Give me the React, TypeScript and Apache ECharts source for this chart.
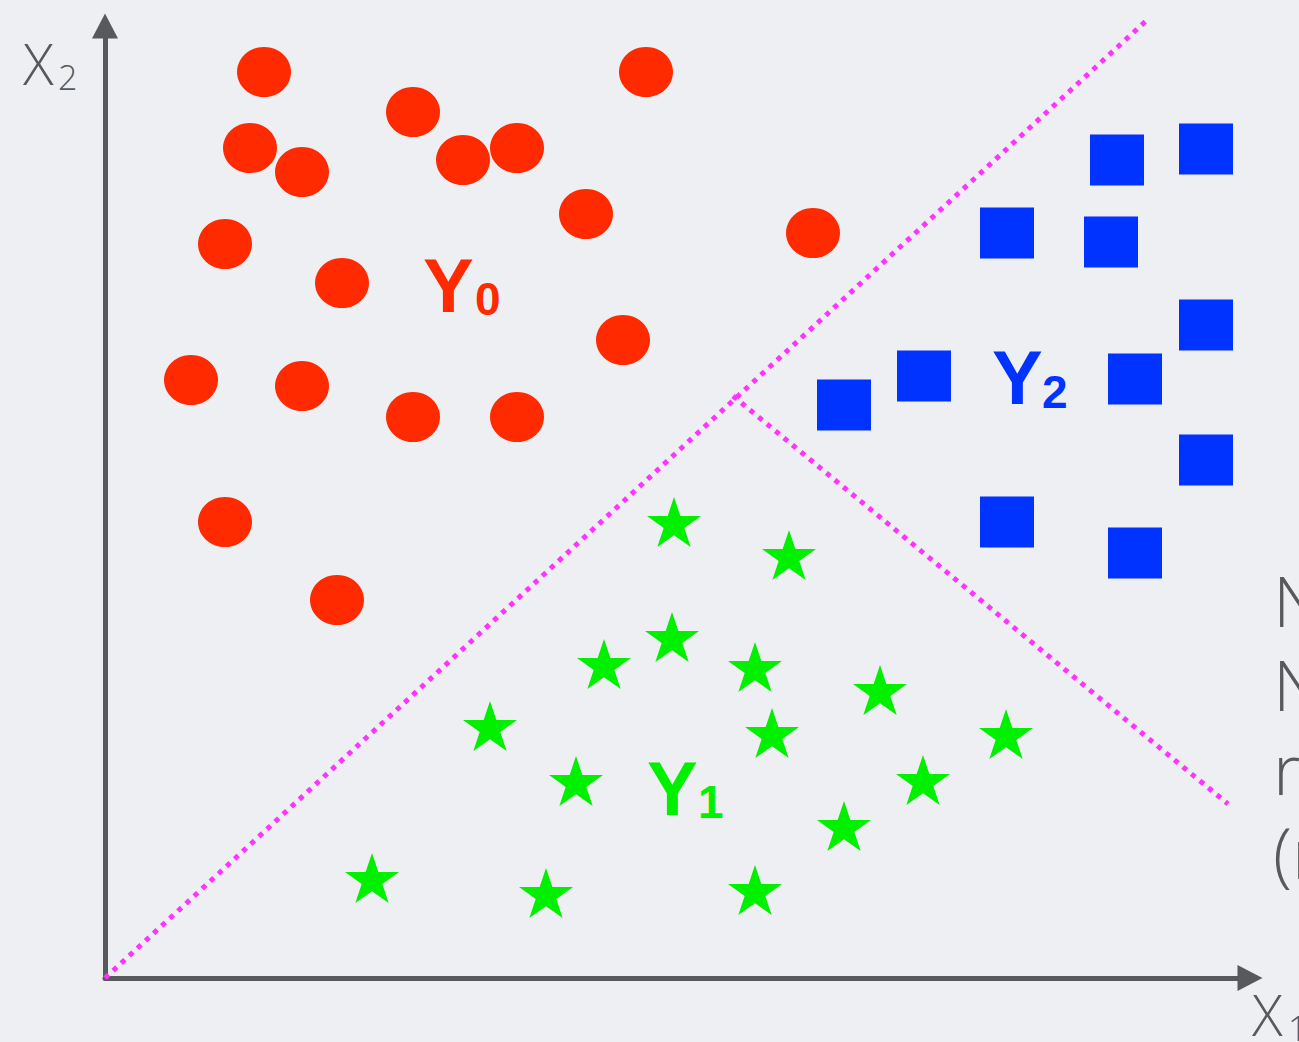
import React, { useEffect, useRef } from "react";
import * as echarts from "echarts";

// Class Y0 (red circles), pixel-offset units from the axis origin
const class0X = [159, 541, 308, 145, 197, 358, 412, 481, 708, 120, 237, 518, 86, 197, 308, 412, 120, 232];
const class0Y = [906, 906, 866, 830, 806, 818, 830, 764, 745, 734, 695, 638, 598, 592, 561, 561, 456, 378];
// Class Y2 (blue squares)
const class2X = [1012, 1101, 902, 1006, 1101, 819, 739, 1030, 1101, 902, 1030];
const class2Y = [818, 829, 745, 736, 653, 602, 573, 599, 518, 456, 425];
// Class Y1 (green stars)
const class1X = [569, 684, 567, 499, 650, 775, 385, 667, 901, 471, 818, 739, 267, 441, 650];
const class1Y = [456, 423, 341, 314, 311, 288, 252, 245, 244, 197, 198, 152, 100, 85, 88];
// Decision boundaries
const boundaryA = [[0, 0], [1042, 958]];
const boundaryB = [[628, 582], [1123, 174]];
// Texts
const classNames = ["Y", "Y", "Y"];
const classSubs = ["0", "1", "2"];
const axisNames = ["X", "X"];
const axisSubs = ["1", "2"];
const sideLines = ["N", "N", "re", "(n"];

const STAR =
  "path://M50,0 L61.2,34.5 L97.6,34.5 L68.2,55.9 L79.4,90.5 L50,69.1 L20.6,90.5 L31.8,55.9 L2.4,34.5 L38.8,34.5 Z";

const zip = (xs: number[], ys: number[]) => xs.map((x, i) => [x, ys[i]]);

export default function App() {
  const ref = useRef<HTMLDivElement>(null);
  useEffect(() => {
    if (!ref.current) return;
    const chart = echarts.init(ref.current, undefined, { renderer: "svg" });
    const gray = "#58595b";
    const light = "'Open Sans', 'DejaVu Sans', sans-serif";
    const bold = "'Liberation Sans', Arial, sans-serif";
    const txt = (x: number, y: number, text: string, size: number, fill: string, family: string, weight: any) => ({
      type: "text",
      x,
      y,
      z: 10,
      style: { text, fill, fontSize: size, fontFamily: family, fontWeight: weight, align: "left", verticalAlign: "middle" },
    });
    const classColors = ["#ff2a00", "#00f000", "#0033ff"];
    const labelPos = [
      [423, 285, 475, 299],
      [647, 788, 698, 802],
      [992, 377, 1042, 392],
    ];
    const graphics: any[] = [];
    classNames.forEach((n, i) => {
      const p = labelPos[i];
      graphics.push(txt(p[0], p[1], n, 76, classColors[i], bold, "bold"));
      graphics.push(txt(p[2], p[3], classSubs[i], 46, classColors[i], bold, "bold"));
    });
    // axis names
    graphics.push(txt(23, 63, axisNames[1], 57, gray, light, 300));
    graphics.push(txt(58, 77, axisSubs[1], 34, gray, light, 300));
    graphics.push(txt(1252, 1014, axisNames[0], 57, gray, light, 300));
    graphics.push(txt(1288, 1028, axisSubs[0], 34, gray, light, 300));
    // clipped side paragraph
    graphics.push({
      type: "text",
      x: 1273,
      y: 558,
      z: 10,
      style: {
        text: sideLines.join("\n"),
        fill: gray,
        fontSize: 70,
        lineHeight: 84,
        fontFamily: light,
        fontWeight: 300,
        align: "left",
        verticalAlign: "top",
      },
    });

    const axisCommon = {
      type: "value",
      min: 0,
      axisLine: {
        show: true,
        symbol: ["none", "triangle"],
        symbolSize: [26, 25],
        lineStyle: { color: gray, width: 5 },
      },
      axisTick: { show: false },
      axisLabel: { show: false },
      splitLine: { show: false },
    };
    const dotted = (data: number[][]) => ({
      type: "line",
      data,
      symbol: "none",
      clip: false,
      silent: true,
      z: 3,
      lineStyle: { color: "#ff33ff", width: 5, type: [5, 6] },
    });
    chart.setOption({
      animation: false,
      backgroundColor: "#eeeff3",
      grid: { left: 105, right: 49, top: 26, bottom: 64 },
      xAxis: { ...axisCommon, max: 1145 },
      yAxis: { ...axisCommon, max: 952 },
      graphic: graphics,
      series: [
        dotted(boundaryA),
        dotted(boundaryB),
        {
          type: "scatter",
          data: zip(class0X, class0Y),
          symbol: "circle",
          symbolSize: [54, 50],
          itemStyle: { color: classColors[0], opacity: 1 },
          z: 4,
        },
        {
          type: "scatter",
          data: zip(class1X, class1Y),
          symbol: STAR,
          symbolSize: [54, 50],
          itemStyle: { color: classColors[1], opacity: 1 },
          z: 4,
        },
        {
          type: "scatter",
          data: zip(class2X, class2Y),
          symbol: "rect",
          symbolSize: [54, 51],
          itemStyle: { color: classColors[2], opacity: 1 },
          z: 4,
        },
      ],
    });
    return () => chart.dispose();
  }, []);
  return (
    <div
      ref={ref}
      style={{ position: "fixed", left: 0, top: 0, width: 1299, height: 1042 }}
    />
  );
}
